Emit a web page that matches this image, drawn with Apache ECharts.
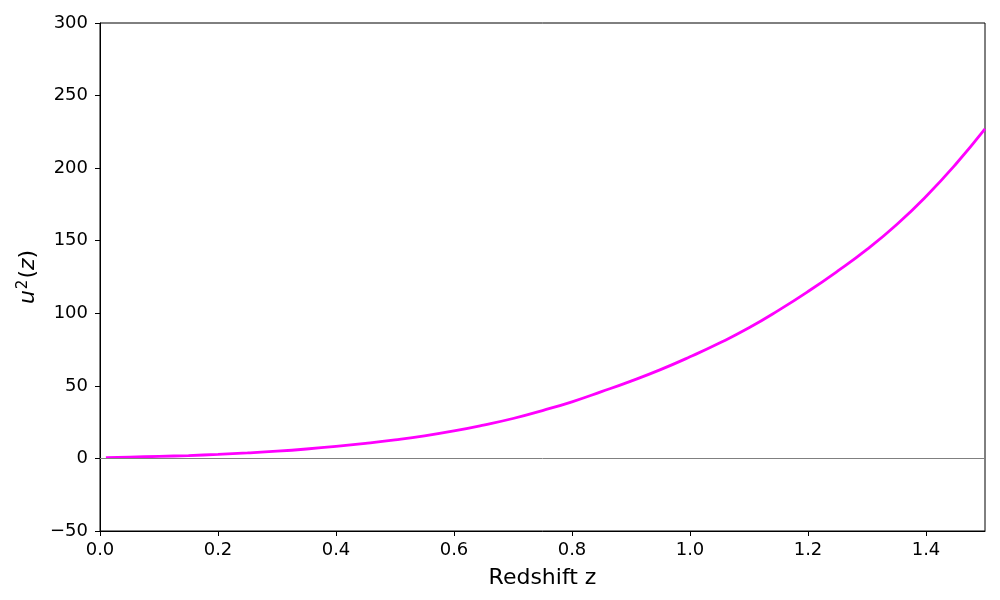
<!DOCTYPE html>
<html>
<head>
<meta charset="utf-8">
<script src="https://cdn.jsdelivr.net/npm/echarts@6/dist/echarts.min.js"></script>
<style>
  html, body { margin: 0; padding: 0; background: #fff; }
  #chart { width: 1000px; height: 600px; }
</style>
</head>
<body>
<div id="chart"></div>
<script>
// redshift samples and u^2(z)
const redshift = [0.01, 0.05, 0.1, 0.15, 0.2, 0.25, 0.3, 0.35, 0.4, 0.45, 0.5, 0.55, 0.6, 0.65, 0.7, 0.75,
  0.8, 0.85, 0.9, 0.95, 1.0, 1.05, 1.1, 1.15, 1.2, 1.25, 1.3, 1.35, 1.4, 1.45, 1.5]
const u2 = [0.5, 0.9, 1.4, 2.0, 2.8, 3.8, 5.0, 6.5, 8.3, 10.4, 12.8, 15.6, 19.0, 23.0, 27.5, 33.0,
  39.0, 46.0, 53.3, 61.2, 70.0, 79.5, 90.0, 102.0, 115.0, 129.0, 144.0, 161.0, 180.5, 202.5, 227.0]
const xTicks = [0, 0.2, 0.4, 0.6, 0.8, 1.0, 1.2, 1.4]

const chart = echarts.init(document.getElementById('chart'))
const font = 'DejaVu Sans'

chart.setOption({
  animation: false,
  textStyle: { fontFamily: font },
  grid: {
    left: 100, right: 15, top: 23, bottom: 69,
    show: true, borderColor: '#000', borderWidth: 1
  },
  xAxis: {
    type: 'value',
    min: 0, max: 1.5,
    name: 'Redshift z',
    nameLocation: 'middle',
    nameGap: 36,
    nameTextStyle: { fontSize: 22, color: '#000', fontFamily: font },
    axisLine: { show: true, onZero: false, lineStyle: { color: '#000', width: 1 } },
    axisTick: { show: true, length: 5, customValues: xTicks, lineStyle: { color: '#000' } },
    axisLabel: {
      customValues: xTicks,
      fontSize: 18, color: '#000', margin: 10,
      formatter: v => v.toFixed(1)
    },
    splitLine: { show: false }
  },
  yAxis: {
    type: 'value',
    min: -50, max: 300, interval: 50,
    name: '{i|u}{s|2}{n|(}{i|z}{n|)}',
    nameLocation: 'middle',
    nameGap: 58,
    nameRotate: 90,
    nameTextStyle: {
      color: '#000',
      rich: {
        i: { fontSize: 22, fontStyle: 'italic', fontFamily: font, color: '#000' },
        n: { fontSize: 22, fontFamily: font, color: '#000' },
        s: { fontSize: 15, fontFamily: font, color: '#000', verticalAlign: 'top', padding: [0, 1, 10, 1] }
      }
    },
    axisLine: { show: true, lineStyle: { color: '#000', width: 1 } },
    axisTick: { show: true, length: 5, lineStyle: { color: '#000' } },
    axisLabel: {
      fontSize: 18, color: '#000', margin: 12,
      formatter: v => String(v).replace('-', '\u2212')
    },
    splitLine: { show: false }
  },
  series: [{
    type: 'line',
    data: redshift.map((z, i) => [z, u2[i]]),
    smooth: true,
    showSymbol: false,
    lineStyle: { color: '#ff00ff', width: 2.8 },
    markLine: {
      silent: true,
      symbol: 'none',
      label: { show: false },
      lineStyle: { color: '#808080', width: 1, type: 'solid' },
      data: [{ yAxis: 0 }]
    }
  }]
})
</script>
</body>
</html>
